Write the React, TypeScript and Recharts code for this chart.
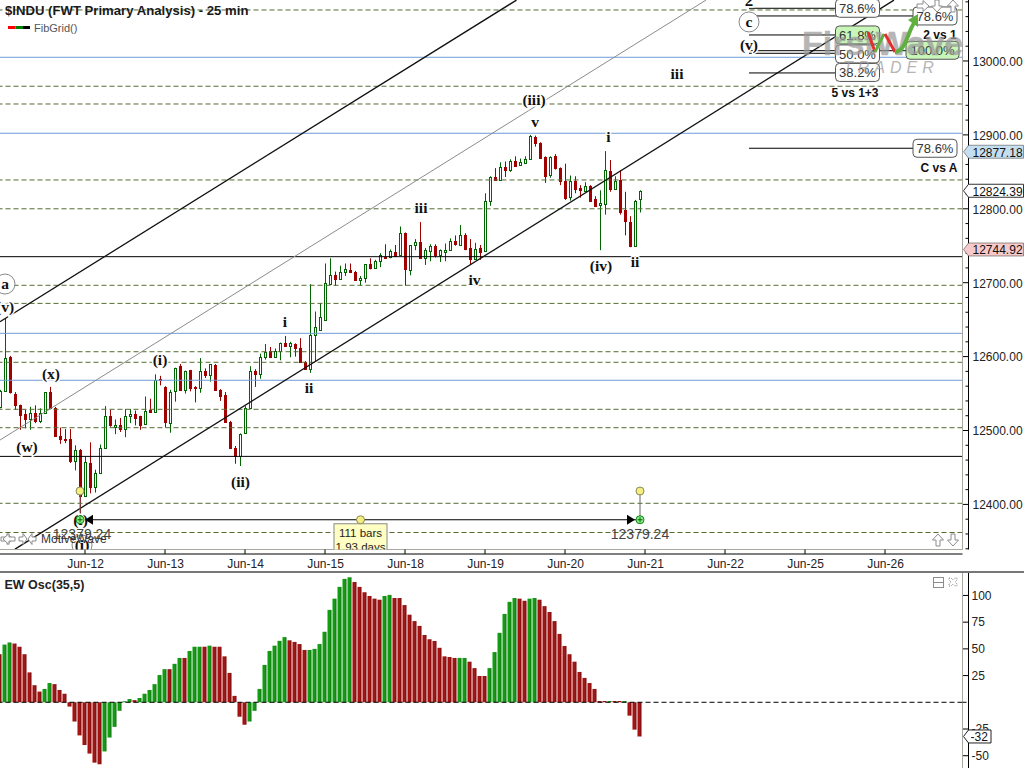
import React from 'react';
import { ComposedChart, Bar, XAxis, YAxis, ReferenceLine, ReferenceDot } from 'recharts';

const opens = [12532,12553,12600,12550,12535,12522,12516,12524,12513,12524,
12552,12531,12493,12489,12488,12459,12474,12411,12456,12424,
12442,12477,12520,12505,12508,12502,12519,12522,12520,12509,
12528,12525,12570,12559,12510,12553,12587,12555,12582,12559,
12557,12580,12575,12589,12555,12548,12512,12476,12465,12497,
12531,12580,12577,12599,12607,12600,12607,12618,12615,12617,
12611,12593,12583,12629,12636,12650,12698,12710,12705,12715,
12717,12715,12704,12707,12725,12720,12729,12735,12735,12742,
12737,12767,12717,12751,12755,12733,12743,12750,12738,12742,
12744,12757,12751,12765,12747,12732,12747,12743,12810,12843,
12839,12856,12853,12865,12859,12862,12867,12897,12889,12870,
12846,12871,12855,12838,12816,12838,12828,12824,12831,12813,
12805,12807,12851,12827,12839,12798,12782,12750,12813];
const highs = [12555,12652,12601,12552,12535,12528,12532,12534,12530,12552,
12559,12532,12504,12502,12502,12480,12475,12465,12484,12447,
12481,12533,12528,12515,12517,12529,12529,12527,12520,12546,
12543,12576,12574,12560,12555,12585,12590,12581,12582,12560,
12598,12584,12590,12590,12556,12552,12513,12479,12496,12533,
12587,12583,12604,12617,12613,12611,12619,12628,12620,12618,
12625,12594,12698,12661,12672,12726,12733,12715,12723,12726,
12726,12716,12709,12725,12733,12731,12740,12752,12745,12751,
12776,12768,12751,12759,12782,12747,12752,12752,12745,12753,
12760,12764,12778,12767,12759,12754,12751,12821,12844,12855,
12863,12864,12867,12871,12868,12871,12900,12899,12890,12871,
12871,12874,12856,12861,12845,12844,12832,12836,12832,12817,
12825,12878,12866,12844,12852,12823,12790,12812,12825];
const lows = [12530,12553,12550,12528,12501,12503,12501,12510,12510,12523,
12529,12492,12482,12483,12456,12446,12379.24,12410,12415,12416,
12441,12477,12505,12495,12498,12491,12510,12507,12501,12509,
12524,12524,12561,12504,12497,12539,12554,12550,12553,12538,
12551,12571,12566,12554,12540,12511,12476,12455,12452,12496,
12530,12559,12570,12596,12598,12599,12595,12613,12599,12600,
12592,12582,12578,12593,12635,12650,12697,12696,12704,12709,
12714,12704,12696,12700,12718,12719,12721,12734,12733,12735,
12737,12696,12710,12744,12733,12724,12729,12734,12728,12729,
12743,12750,12750,12744,12725,12731,12731,12743,12804,12839,
12839,12843,12850,12858,12858,12861,12866,12884,12868,12835,
12842,12853,12832,12812,12811,12821,12815,12823,12810,12803,
12744,12792,12823,12826,12792,12764,12748,12749,12795];
const closes = [12553,12598,12552,12535,12521,12516,12524,12513,12524,12552,
12530,12492,12489,12487,12459,12473,12411,12457,12423,12442,
12477,12520,12507,12508,12502,12520,12522,12517,12508,12527,
12525,12569,12568,12511,12552,12584,12555,12580,12558,12557,
12580,12575,12590,12555,12547,12512,12477,12465,12495,12531,
12580,12576,12599,12606,12600,12607,12619,12614,12618,12611,
12593,12583,12629,12640,12653,12699,12710,12705,12714,12718,
12715,12704,12707,12725,12720,12730,12738,12734,12743,12736,
12767,12718,12751,12755,12733,12744,12750,12738,12744,12744,
12757,12752,12765,12746,12732,12745,12742,12810,12843,12839,
12856,12853,12865,12858,12863,12867,12899,12889,12869,12845,
12870,12855,12838,12814,12838,12827,12825,12831,12811,12804,
12808,12852,12827,12838,12796,12783,12749,12811,12824.39];

const oscValues = [45,54,56,55,52,45,28,16,10,12.5,
18,17,11.5,8,-4,-18,-31,-40,-48,-56.5,
-58,-46,-33,-23,-8,1,3,2,4,8,
11.5,17,25.5,31,31,36,41.5,41.5,48,52,
52,52,53,52,52,43,27.5,6,-13.5,-21,
-18,-8,12.5,35,48,53,57.5,61,58,56.5,
54.5,49,49,50,54.5,66,86.5,97,108,115.5,
117,112.6,108,103,99.5,97,96,99.5,100.5,97.6,
97.6,91,82,76,71.5,63,59,57.4,51,43,
42.4,41.5,41.5,41.5,38,32,24.6,24.6,32,47,
65,82.7,94,97.6,97,95,97,97.6,96,90,
84.5,76,64,52.7,45,38,28.4,22.8,18,12.5,
1.2,1.2,1.2,1.2,1.2,1.2,-12.5,-25.6,-32];
const oscDirection = 'rggrrrrrrg' + 'grrrrrrrrr' + 'rggggggrgg' + 'ggggrggrgg' + 'grgrrrrrrr' + 'ggggggggrr' + 'rrgggggggg' + 'grrrrrrggr' + 'rrrrrrrrrr' + 'rrggrrrrgg' + 'ggggrrggrr' + 'rrrrrrrrrr' + 'rrgrrgrrr';

const dayBars = [17,33,49,65,81,97,113,129,145,161,177];
const dayLabels = ['Jun-12','Jun-13','Jun-14','Jun-15','Jun-18','Jun-19','Jun-20','Jun-21','Jun-22','Jun-25','Jun-26'];

const priceMinor = [12340,12360,12380,12420,12440,12460,12480,12520,12540,12560,12580,12620,12640,12660,12680,12720,12740,12760,12780,12820,12840,12860,12880,12920,12940,12960,12980,13020,13040,13060,13080];
const priceMajor = [12400,12500,12600,12700,12800,12900,13000];
const priceTags = [12877.18,12824.39,12744.92];
const oscTicks = [100,75,50,25,0,-25,-50];
const oscLast = -32;

const fibDashed = [13069,12965.8,12941.8,12839,12800,12696.5,12672,12606.6,12592.3,12528.7,12503.8,12401.5,12362];
const fibBlue = [13005,12902.2,12631.5,12568];
const fibBlack = [12735.2,12465];

const channels = [
  { k1: 3, p1: 12339.5, k2: 178.8, p2: 13082.4 },
  { k1: 0, p1: 12487.1, k2: 141.2, p2: 13082.4 },
  { k1: 0, p1: 12647.2, k2: 103.3, p2: 13082.4 },
];

const waveLabels = [
  { t: '(i)', k: 16.4, p: 12345.1, ring: true },
  { t: '(i)', k: 16.1, p: 12379.2 },
  { t: 'a', k: 1, p: 12698.2, ring: true },
  { t: '(v)', k: 1, p: 12667.5 },
  { t: '(x)', k: 10.2, p: 12576.5 },
  { t: '(w)', k: 5.4, p: 12477.7 },
  { t: '(i)', k: 32, p: 12595.4 },
  { t: '(ii)', k: 48.1, p: 12430.3 },
  { t: 'i', k: 57, p: 12646.8 },
  { t: 'ii', k: 61.8, p: 12557.5 },
  { t: 'iii', k: 84.2, p: 12801.1 },
  { t: 'iv', k: 94.9, p: 12703.6 },
  { t: '(iii)', k: 106.8, p: 12947.2 },
  { t: 'v', k: 107, p: 12917.5 },
  { t: 'i', k: 121.7, p: 12897.2 },
  { t: '(iv)', k: 120.2, p: 12722.6 },
  { t: 'ii', k: 127, p: 12728 },
  { t: 'iii', k: 135.4, p: 12982.4 },
  { t: '2', k: 149.8, p: 13081.2 },
  { t: 'c', k: 149.8, p: 13052.8, ring: true },
  { t: '(v)', k: 149.8, p: 13021.7 },
];

const fibSegments = [
  { k1: 149.8, k2: 167.2, p: 13071.3 },
  { k1: 149.8, k2: 182.6, p: 13060.9 },
  { k1: 149.8, k2: 167.2, p: 13035.2 },
  { k1: 149.8, k2: 181.2, p: 13013.9 },
  { k1: 149.8, k2: 167.2, p: 13010.4 },
  { k1: 149.8, k2: 167.2, p: 12983.8 },
  { k1: 149.8, k2: 182.6, p: 12881.9 },
];
const fibBoxes = [
  { t: '78.6%', k: 171.5, p: 13071.3 },
  { t: '78.6%', k: 187, p: 13060.9 },
  { t: '61.8%', k: 171.5, p: 13035.2, hit: true },
  { t: '100.0%', k: 186.5, p: 13014.5, hit: true },
  { t: '50.0%', k: 171.5, p: 13009.5 },
  { t: '38.2%', k: 171.5, p: 12984.5 },
  { t: '78.6%', k: 187, p: 12881.9 },
];
const fibCaptions = [
  { t: '5 vs 1+3', k: 171, p: 12957.1 },
  { t: '2 vs 1', k: 188, p: 13035.2 },
  { t: 'C vs A', k: 187.8, p: 12855.6 },
];

const measureLow = 12379.24;
const measureStart = 16;
const measureEnd = 128;
const measureMid = 72.1;
const measureHandle = 12418.1;
const measureText = '12379.24';
const measureBox = ['111 bars', '1.93 days'];

const rows = opens.map((o, i) => ({ i, o, c: closes[i], range: [lows[i], highs[i]] }));
const oscRows = oscValues.map((v, i) => ({ i, v, d: oscDirection[i] }));

const SANS = '"Liberation Sans", Arial, sans-serif';
const SERIF = '"Liberation Serif", "Times New Roman", serif';
const PLOT_W = 962.5;
const PLOT_H = 549.5;
const X_DOMAIN: [number, number] = [0, 192.5];
const Y_DOMAIN: [number, number] = [12339, 13082.5];
const OSC_DOMAIN: [number, number] = [-61.5, 121];
const UP = '#006400';
const DOWN = '#a00000';
const tagFill = ['#c6dff0', '#ffffff', '#f8c9c9'];

function Candle(props: any) {
  const { x, y, width, height, payload } = props;
  const hi = payload.range[1];
  const lo = payload.range[0];
  const at = (p: number) => y + ((hi - p) / (hi - lo || 1)) * height;
  const cx = Math.round(x + width / 2) + 0.5;
  const up = payload.c >= payload.o;
  const col = up ? UP : DOWN;
  const top = Math.round(at(Math.max(payload.o, payload.c))) + 0.5;
  const bot = Math.round(at(Math.min(payload.o, payload.c))) + 0.5;
  return (
    <g>
      <line x1={cx} x2={cx} y1={at(hi)} y2={at(lo)} stroke={col} strokeWidth={1} />
      <rect x={cx - 1} y={top} width={2} height={Math.max(bot - top, 1)} fill={up ? '#ffffff' : col} stroke={col} strokeWidth={1} />
    </g>
  );
}

function OscBar(props: any) {
  const { x, y, width, height, payload } = props;
  const top = Math.min(y, y + height);
  const h = Math.abs(height);
  const green = payload.d === 'g';
  return <rect x={x} y={top} width={width} height={h} fill={green ? 'url(#oscGreen)' : 'url(#oscRed)'} />;
}

const clipPlot = (child: React.ReactNode) => (
  <svg x={0} y={0} width={PLOT_W} height={PLOT_H} style={{ overflow: 'hidden' }}>{child}</svg>
);

const waveShape = (t: string, ring?: boolean) => (props: any) => clipPlot(
  <g>
    {ring ? <circle cx={props.cx} cy={props.cy} r={10} fill="#ffffff" stroke="#888888" strokeWidth={1} /> : null}
    <text x={props.cx} y={props.cy} dy="0.32em" textAnchor="middle" fontFamily={SERIF} fontWeight="bold" fontSize={t === '2' ? 17 : 15.5} fill="#111111" stroke="#ffffff" strokeWidth={ring ? 0 : 3} paintOrder="stroke">{t}</text>
  </g>
);

const fibBoxShape = (t: string, hit?: boolean) => (props: any) => {
  const w = t.length > 5 ? 53 : 44;
  return clipPlot(
    <g>
      <rect x={props.cx - w / 2} y={props.cy - 9} width={w} height={18} rx={4} fill={hit ? '#c8f5b8' : '#ffffff'} stroke="#555555" strokeWidth={1} />
      <text x={props.cx} y={props.cy} dy="0.36em" textAnchor="middle" fontFamily={SANS} fontSize={13} fill="#333333">{t}</text>
    </g>
  );
};

const captionShape = (t: string) => (props: any) => (
  <text x={props.cx} y={props.cy} dy="0.36em" textAnchor="middle" fontFamily={SANS} fontWeight="bold" fontSize={12} fill="#111111">{t}</text>
);

const handleShape = (props: any) => <circle cx={props.cx} cy={props.cy} r={4} fill="#f2ee82" stroke="#8a8a55" strokeWidth={1} />;
const anchorShape = (props: any) => (
  <g>
    <circle cx={props.cx} cy={props.cy} r={4} fill="#8fe88f" stroke="#0a8a0a" strokeWidth={1} />
    <path d={`M${props.cx - 2.5} ${props.cy}H${props.cx + 2.5}M${props.cx} ${props.cy - 2.5}V${props.cy + 2.5}`} stroke="#0a6a0a" strokeWidth={1} />
  </g>
);
const arrowHead = (dir: number) => (props: any) => (
  <polygon points={`${props.cx + dir * 5},${props.cy} ${props.cx + dir * 13},${props.cy - 5} ${props.cx + dir * 13},${props.cy + 5}`} fill="#000000" />
);
const measureTextShape = (dx: number) => (props: any) => clipPlot(
  <text x={props.cx + dx} y={props.cy + 14} dy="0.36em" textAnchor="middle" fontFamily={SANS} fontSize={14} fill="#444444">{measureText}</text>
);
const boxShape = (props: any) => clipPlot(
  <g>
    <rect x={props.cx - 26.5} y={props.cy + 4} width={53} height={30} fill="#ffffc4" stroke="#888888" strokeWidth={1} />
    <text x={props.cx} y={props.cy + 17} textAnchor="middle" fontFamily={SANS} fontSize={11.5} fill="#222222">{measureBox[0]}</text>
    <text x={props.cx} y={props.cy + 31} textAnchor="middle" fontFamily={SANS} fontSize={11.5} fill="#222222">{measureBox[1]}</text>
  </g>
);

function PriceTick(props: any) {
  const { x, y, payload } = props;
  const v = payload.value;
  const tag = priceTags.indexOf(v);
  if (tag >= 0) {
    return (
      <g>
        <polygon points={`${x - 5},${y} ${x},${y - 6.5} ${x + 55},${y - 6.5} ${x + 55},${y + 6.5} ${x},${y + 6.5}`} fill={tagFill[tag]} stroke="#333333" strokeWidth={tag === 1 ? 1 : 0.5} />
        <text x={x + 4} y={y + 0.5} dy="0.36em" fontFamily={SANS} fontSize={12} fill="#111111">{v.toFixed(2)}</text>
      </g>
    );
  }
  const major = priceMajor.includes(v);
  return (
    <g>
      <line x1={x - (major ? 5.5 : 3)} x2={x} y1={y} y2={y} stroke="#000000" strokeWidth={1} />
      {major ? <text x={x + 4} y={y + 0.5} dy="0.36em" fontFamily={SANS} fontSize={12} fill="#222222">{v.toFixed(2)}</text> : null}
    </g>
  );
}

function OscTick(props: any) {
  const { x, y, payload } = props;
  const v = payload.value;
  if (v === oscLast) {
    return (
      <g>
        <polygon points={`${x - 5},${y} ${x},${y - 6.5} ${x + 22.5},${y - 6.5} ${x + 22.5},${y + 6.5} ${x},${y + 6.5}`} fill="#ffffff" stroke="#222222" strokeWidth={1} />
        <text x={x + 2} y={y} dy="0.36em" fontFamily={SANS} fontSize={12} fill="#111111">{v}</text>
      </g>
    );
  }
  if (v === 0) return <line x1={x - 6} x2={x} y1={y} y2={y} stroke="#000000" strokeWidth={1} strokeDasharray="4 2" />;
  return (
    <g>
      <line x1={x - 5.5} x2={x} y1={y} y2={y} stroke="#000000" strokeWidth={1} />
      <text x={x + 3} y={y} dy="0.36em" fontFamily={SANS} fontSize={12} fill="#222222">{v}</text>
    </g>
  );
}

function DayTick(props: any) {
  const { x, y, payload } = props;
  const idx = dayBars.indexOf(payload.value);
  return (
    <g>
      <line x1={x} x2={x} y1={y - 4.5} y2={y} stroke="#000000" strokeWidth={1} />
      <text x={x + 0.5} y={y + 9.5} dy="0.36em" textAnchor="middle" fontFamily={SANS} fontSize={12} fill="#222222">{dayLabels[idx]}</text>
    </g>
  );
}

const Outline = ({ x, y, rot, w = 12 }: { x: number; y: number; rot: number; w?: number }) => (
  <polygon transform={`translate(${x},${y}) rotate(${rot})`} points={`${-w / 2},-2 0,-2 0,-5.5 ${w / 2},0 0,5.5 0,2 ${-w / 2},2`} fill="#ffffff" stroke="#8c8c8c" strokeWidth={1} />
);

function Overlay() {
  return (
    <svg width={1024} height={768} style={{ position: 'absolute', left: 0, top: 0, pointerEvents: 'none' }}>
      <defs>
        <linearGradient id="oscGreen" x1="0" x2="1" y1="0" y2="0">
          <stop offset="0" stopColor="#00a800" />
          <stop offset="0.6" stopColor="#1f931f" />
          <stop offset="1" stopColor="#0c6f0c" />
        </linearGradient>
        <linearGradient id="oscRed" x1="0" x2="1" y1="0" y2="0">
          <stop offset="0" stopColor="#b80000" />
          <stop offset="0.55" stopColor="#942020" />
          <stop offset="1" stopColor="#7c0000" />
        </linearGradient>
      </defs>
      <text x={5} y={14.5} fontFamily={SANS} fontWeight="bold" fontSize={13.15} fill="#1a1a1a">$INDU (FWT Primary Analysis) - 25 min</text>
      <rect x={8} y={26} width={7.5} height={3} fill="#ff0000" />
      <rect x={15.5} y={26} width={7.5} height={3} fill="#008000" />
      <rect x={23} y={26} width={7} height={3} fill="#000000" />
      <text x={34} y={32} fontFamily={SANS} fontSize={11} fill="#555555">FibGrid()</text>
      <text x={41} y={543} fontFamily={SANS} fontSize={12} fill="#333333">MotiveWave</text>
      <Outline x={7} y={539} rot={0} /><Outline x={9} y={539} rot={180} />
      <Outline x={23} y={539} rot={0} w={8} /><Outline x={32} y={539} rot={180} w={8} />
      <Outline x={938} y={540} rot={-90} /><Outline x={953} y={540} rot={90} />
      <Outline x={923} y={6} rot={0} /><Outline x={937} y={6} rot={90} /><Outline x={953} y={6} rot={-90} />
      <text x={4.5} y={589} fontFamily={SANS} fontWeight="bold" fontSize={12.5} fill="#222222">EW Osc(35,5)</text>
      <g fill="none" stroke="#8c8c8c" strokeWidth={1}>
        <rect x={933.5} y={577.5} width={10} height={10} />
        <line x1={933.5} x2={943.5} y1={582.5} y2={582.5} />
        <path d="M949 578l2 0 2 2 2-2 2 0 0 2-2 2 2 2 0 2-2 0-2-2-2 2-2 0 0-2 2-2-2-2z" strokeDasharray="1 1" />
      </g>
      <g opacity={0.72}>
        <text x={802} y={55} fontFamily={SANS} fontWeight="bold" fontSize={34} fill="#9a9a9a" stroke="#9a9a9a" strokeWidth={0.4}>FirstWave</text>
        <text x={843} y={73} fontFamily={SANS} fontStyle="italic" fontSize={16} letterSpacing={5} fill="#9a9a9a">TRADER</text>
      </g>
      <path d="M868 32L875 52" stroke="#e03030" strokeWidth={3} fill="none" />
      <path d="M875 52L884 34" stroke="#60b040" strokeWidth={3} fill="none" />
      <path d="M885 34L895 52" stroke="#e03030" strokeWidth={3} fill="none" />
      <path d="M895 52C905 52 908 32 914 23" stroke="#60b040" strokeWidth={4} fill="none" />
      <polygon points="908,20 918,14 918,27" fill="#60b040" />
    </svg>
  );
}

export default function App() {
  return (
    <div style={{ position: 'absolute', left: 0, top: 0, width: 1024, height: 768, background: '#ffffff', overflow: 'hidden' }}>
      <div style={{ position: 'absolute', left: 0, top: 0 }}>
        <ComposedChart width={1024} height={572} data={rows} margin={{ top: 0, right: 0, bottom: 0, left: 0 }} barCategoryGap={0}>
          <XAxis type="number" dataKey="i" domain={X_DOMAIN} height={4.5} axisLine={{ stroke: '#a8a8a0' }} tick={false} tickLine={false} allowDataOverflow />
          <XAxis xAxisId="days" type="number" dataKey="i" domain={X_DOMAIN} ticks={dayBars} height={18} interval={0} axisLine={{ stroke: '#000000' }} tickLine={false} tickSize={0} tickMargin={0} tick={DayTick} allowDataOverflow />
          <YAxis orientation="right" type="number" domain={Y_DOMAIN} width={6} axisLine={{ stroke: '#a8a8a0' }} tick={false} tickLine={false} allowDataOverflow />
          <YAxis yAxisId="price" orientation="right" type="number" domain={Y_DOMAIN} width={55.5} ticks={[...priceMinor, ...priceMajor, ...priceTags]} interval={0} axisLine={{ stroke: '#000000' }} tickLine={false} tickSize={0} tickMargin={0} tick={PriceTick} allowDataOverflow />

          {fibBlue.map((p) => <ReferenceLine key={p} y={p} stroke="#6f9bd8" strokeWidth={1} />)}
          {fibDashed.map((p) => <ReferenceLine key={p} y={p} stroke="#556b2f" strokeWidth={1} strokeDasharray="5 3" />)}
          {fibBlack.map((p) => <ReferenceLine key={p} y={p} stroke="#000000" strokeWidth={1} />)}
          {channels.map((c, i) => (
            <ReferenceLine key={i} segment={[{ x: c.k1, y: c.p1 }, { x: c.k2, y: c.p2 }]} stroke={i === 1 ? '#8c8c8c' : '#111111'} strokeWidth={i === 1 ? 1 : 1.3} />
          ))}
          {fibSegments.map((s, i) => (
            <ReferenceLine key={i} segment={[{ x: s.k1, y: s.p }, { x: s.k2, y: s.p }]} stroke="#000000" strokeWidth={1} />
          ))}
          <Bar dataKey="range" barSize={5} isAnimationActive={false} shape={Candle} />

          {waveLabels.map((w, i) => <ReferenceDot key={i} x={w.k} y={w.p} r={1} shape={waveShape(w.t, w.ring)} />)}
          <ReferenceLine segment={[{ x: measureStart, y: measureLow }, { x: measureEnd, y: measureLow }]} stroke="#000000" strokeWidth={1} />
          <ReferenceLine segment={[{ x: measureStart, y: measureHandle }, { x: measureStart, y: measureLow }]} stroke="#666666" strokeWidth={1} />
          <ReferenceLine segment={[{ x: measureEnd, y: measureHandle }, { x: measureEnd, y: measureLow }]} stroke="#666666" strokeWidth={1} />
          <ReferenceDot x={measureStart} y={measureLow} r={1} shape={arrowHead(1)} />
          <ReferenceDot x={measureEnd} y={measureLow} r={1} shape={arrowHead(-1)} />
          <ReferenceDot x={measureStart} y={measureLow} r={1} shape={anchorShape} />
          <ReferenceDot x={measureEnd} y={measureLow} r={1} shape={anchorShape} />
          <ReferenceDot x={measureStart} y={measureHandle} r={1} shape={handleShape} />
          <ReferenceDot x={measureEnd} y={measureHandle} r={1} shape={handleShape} />
          <ReferenceDot x={measureMid} y={measureLow} r={1} shape={boxShape} />
          <ReferenceDot x={measureMid} y={measureLow} r={1} shape={handleShape} />
          <ReferenceDot x={measureStart} y={measureLow} r={1} shape={measureTextShape(2)} />
          <ReferenceDot x={measureEnd} y={measureLow} r={1} shape={measureTextShape(0)} />
          {fibBoxes.map((b, i) => <ReferenceDot key={i} x={b.k} y={b.p} r={1} shape={fibBoxShape(b.t, b.hit)} />)}
          {fibCaptions.map((c, i) => <ReferenceDot key={i} x={c.k} y={c.p} r={1} shape={captionShape(c.t)} />)}
        </ComposedChart>
      </div>
      <div style={{ position: 'absolute', left: 0, top: 570.5, width: 1024, height: 2, background: '#777777' }} />
      <div style={{ position: 'absolute', left: 0, top: 573 }}>
        <ComposedChart width={1024} height={195} data={oscRows} margin={{ top: 0, right: 0, bottom: 0, left: 0 }}>
          <XAxis type="number" dataKey="i" domain={X_DOMAIN} hide allowDataOverflow />
          <YAxis orientation="right" type="number" domain={OSC_DOMAIN} width={6} axisLine={{ stroke: '#a8a8a0' }} tick={false} tickLine={false} allowDataOverflow />
          <YAxis yAxisId="osc" orientation="right" type="number" domain={OSC_DOMAIN} width={55.5} ticks={[...oscTicks, oscLast]} interval={0} axisLine={{ stroke: '#000000' }} tickLine={false} tickSize={0} tickMargin={0} tick={OscTick} allowDataOverflow />
          <Bar dataKey="v" barSize={4} isAnimationActive={false} shape={OscBar} />
          <ReferenceLine y={0} stroke="#000000" strokeWidth={1} strokeDasharray="5 3" />
        </ComposedChart>
      </div>
      <Overlay />
    </div>
  );
}
